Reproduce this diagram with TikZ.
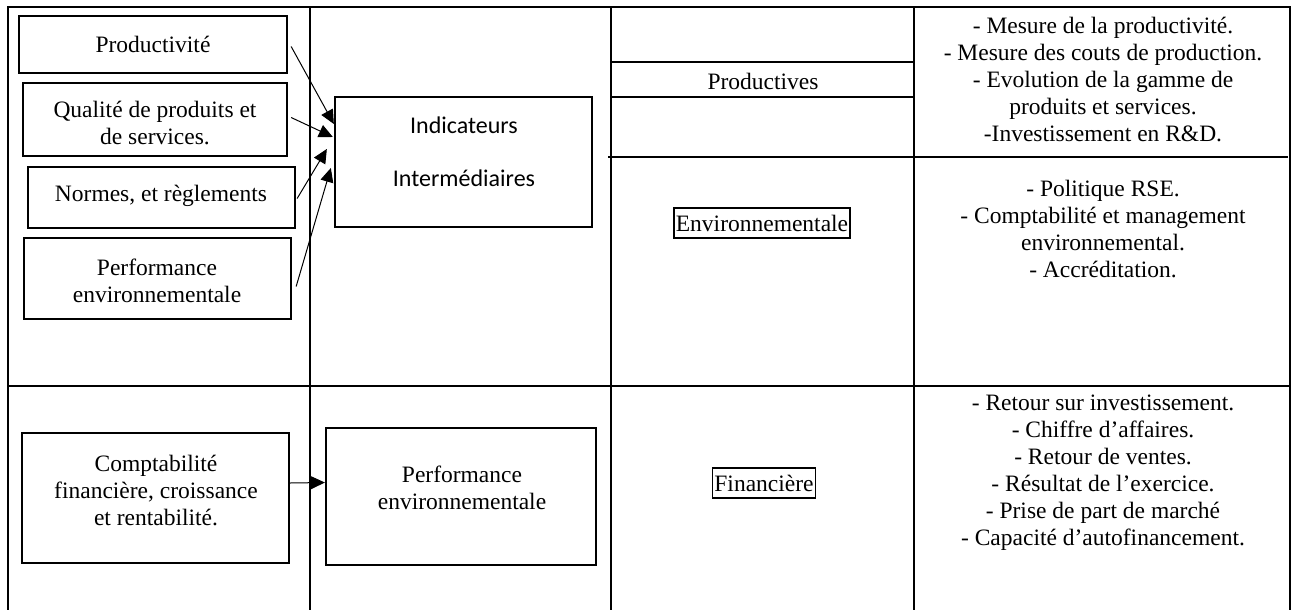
\documentclass[tikz,border=0pt]{standalone}
\usepackage{fontspec}
\setmainfont{Liberation Serif}
\newfontfamily\calibfont{Carlito}
\usetikzlibrary{arrows.meta,calc}
\begin{document}
\begin{tikzpicture}[x=1pt,y=-1pt,
  txt/.style={font=\fontsize{23.5}{27}\selectfont, align=center, inner sep=0pt},
  frame/.style={draw, line width=2.3pt, inner sep=0pt},
  tagbox/.style={draw, line width=1.6pt, font=\fontsize{23.5}{27}\selectfont, inner xsep=2pt, inner ysep=0pt, minimum height=30pt},
  grid/.style={line width=2.2pt},
  arr/.style={line width=1pt, -{Triangle[length=14pt,width=13pt]}}
]
\useasboundingbox (0,0) rectangle (1298,610);
% table
\draw[grid] (8,612) -- (8,7) -- (1290,7) -- (1290,612);
\draw[grid] (310,7) -- (310,612);
\draw[grid] (611,7) -- (611,612);
\draw[grid] (914,7) -- (914,612);
\draw[grid] (8,386) -- (1290,386);
\draw[grid] (611,62) -- (914,62);
\draw[grid] (611,97) -- (914,97);
\draw[line width=1.4pt] (608,157) -- (1288,157);

% left boxes
\node[frame, minimum width=268pt, minimum height=57pt] (prod) at (153,44.5) {};
\node[txt] (prodt) at (153,44) {Productivité};
\node[frame, minimum width=264pt, minimum height=73pt] (qual) at (155,119.5) {};
\node[txt] (qualt) at (155,123) {Qualité de produits et\\de services.};
\node[frame, minimum width=267pt, minimum height=61pt] (norm) at (161.5,197.5) {};
\node[txt] (normt) at (161,196) {Normes, et règlements};
\node[frame, minimum width=267pt, minimum height=81pt] (perfa) at (157.5,278.5) {};
\node[txt] (perfat) at (157,281) {Performance\\environnementale};

% indicateurs
\node[frame, minimum width=257pt, minimum height=130pt] (ind) at (463.5,162) {};
\node[font=\calibfont\fontsize{24}{27}\selectfont, align=center, inner sep=0pt] (indt) at (464,152) {Indicateurs\\[26pt]Intermédiaires};

\draw[arr] ($(prod.east)+(3,2)$) -- ($(ind.west)+(0,-38)$);
\draw[arr] ($(qual.east)+(3,-2)$) -- ($(ind.west)+(-1,-25)$);
\draw[arr] ($(norm.east)+(1,1)$) -- ($(ind.west)+(-7,-13)$);
\draw[arr] ($(perfa.east)+(4,8)$) -- ($(ind.west)+(-3,6)$);

% bottom row
\node[frame, minimum width=267pt, minimum height=130pt] (comp) at (155.5,498) {};
\node[txt] (compt) at (156,490) {Comptabilité\\financière, croissance\\et rentabilité.};
\node[frame, minimum width=270pt, minimum height=137pt] (perfb) at (461,496.5) {};
\node[txt] (perfbt) at (462,488) {Performance\\environnementale};
\draw[arr] ($(comp.east)+(0,-15)$) -- ($(perfb.west)+(0,-14)$);

% third column
\node[txt] (prodv) at (763,81) {Productives};
\node[tagbox] (env) at (762,223) {Environnementale};
\node[tagbox] (fin) at (764,483) {Financière};

% fourth column
\node[txt] (r1) at (1103,79) {- Mesure de la productivité.\\- Mesure des couts de production.\\- Evolution de la gamme de\\produits et services.\\-Investissement en R\&D.};
\node[txt] (r2) at (1103,229) {- Politique RSE.\\- Comptabilité et management\\environnemental.\\- Accréditation.};
\node[txt] (r3) at (1103,472.5) {- Retour sur investissement.\\- Chiffre d’affaires.\\- Retour de ventes.\\- Résultat de l’exercice.\\- Prise de part de marché\\- Capacité d’autofinancement.};
\end{tikzpicture}
\end{document}
